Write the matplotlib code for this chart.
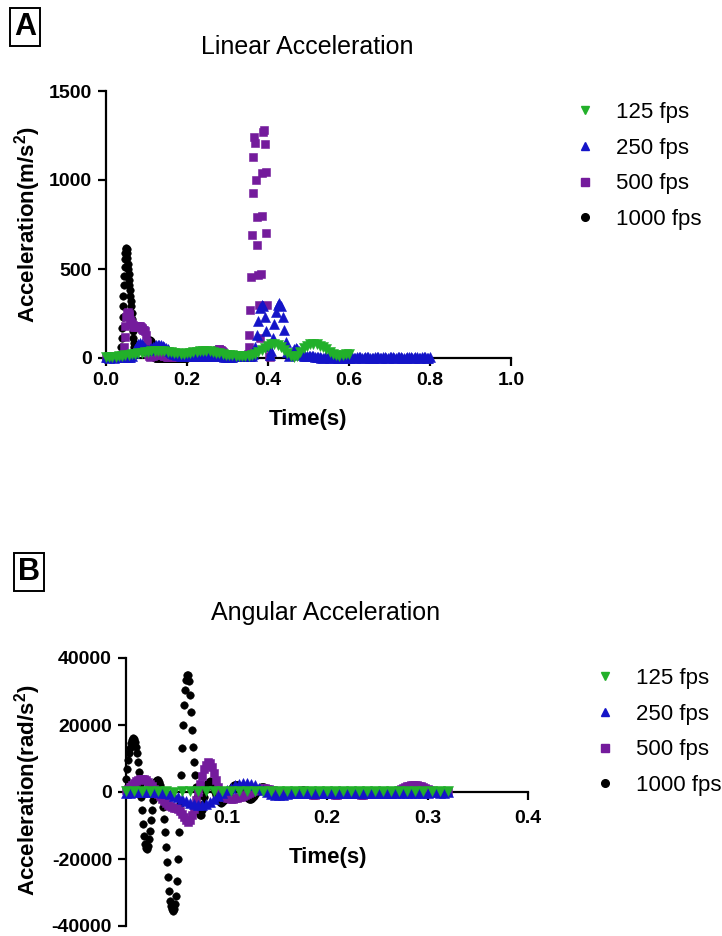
import numpy as np
import matplotlib
matplotlib.use("Agg")
import matplotlib.pyplot as plt
from matplotlib.lines import Line2D

plt.rcParams['font.family'] = ['Liberation Sans', 'DejaVu Sans']
plt.rcParams['axes.unicode_minus'] = False
plt.rcParams['mathtext.fontset'] = 'custom'
plt.rcParams['mathtext.rm'] = 'Liberation Sans'
plt.rcParams['mathtext.bf'] = 'Liberation Sans:bold'

labels = ['125 fps', '250 fps', '500 fps', '1000 fps']
fps = [125, 250, 500, 1000]

# ---- A: linear acceleration (m/s^2), one value per frame from t = 0 ----
green_A = [5, 6, 7, 8, 10, 12, 15, 18, 21, 24, 27, 30, 33, 36, 38, 40, 41, 40, 38, 35,
           32, 29, 26, 25, 25, 27, 30, 33, 36, 38, 39, 39, 37, 34, 30, 26, 22, 19, 17, 15,
           14, 13, 12, 12, 13, 16, 22, 32, 45, 58, 70, 77, 78, 72, 60, 44, 26, 10, 4, 14,
           35, 55, 70, 78, 80, 77, 70, 60, 48, 35, 24, 15, 12, 15, 20, 25]

blue_A = [3, 3, 2, 3, 3, 2, 3, 3, 3, 4, 4, 3, 3, 4, 5, 6,
          12, 28, 50, 68, 80, 85, 80, 68, 55, 47, 45, 48, 55, 62, 68, 72, 75, 74, 71, 67,
          62, 56, 49, 42, 35, 29, 24, 20, 17, 15, 13, 12, 11, 10, 10,
          10, 11, 12, 13, 14, 15, 15, 15, 14, 14, 13, 13, 12, 12, 12, 12, 11, 11, 10, 10,
          9, 9, 8, 8, 8, 8, 8, 8, 9, 9, 9, 10, 10, 10, 10, 10, 10, 11, 12, 14,
          20, 60, 130, 210, 280, 300, 290, 230, 150, 70, 15, 40, 110, 190, 260, 300, 310, 290, 230, 160,
          90, 35, 10, 15, 35, 50, 55, 50, 40, 25, 15, 10, 10, 12, 14, 14, 12, 9, 6, 4,
          3, 3, 2, 2, 3, 3, 3, 2, 2, 3, 3, 3, 2, 2, 2, 3, 3, 3, 2, 2,
          3, 3, 2, 2, 3, 3, 3, 2, 2, 3, 3, 3, 2, 2, 2, 3, 3, 3, 2, 2,
          3, 3, 2, 2, 3, 3, 3, 2, 2, 3, 3, 3, 2, 2, 2, 3, 3, 3, 2, 2,
          3, 3, 2, 2, 3, 3, 3, 2, 2, 3]

purple_A = [2, 2, 2, 2, 2, 2, 2, 2, 2, 2, 2, 2, 2, 2, 2, 2, 3, 3, 4, 6, 10,
            20, 60, 120, 180, 230, 255, 260, 250, 235, 215, 200, 190, 185, 180, 175, 175, 180, 180, 175, 175,
            180, 180, 175, 170, 165, 160, 155, 150, 130, 90, 50, 20, 10,
            8, 9, 10, 12, 14, 16, 18, 20, 22, 24, 25, 25, 24, 22, 20, 18, 16, 14, 12, 10,
            9, 8, 7, 6, 6, 5, 5,
            5, 5, 4, 4, 5, 5, 6, 6, 5, 5, 5, 4, 4, 5, 5, 6, 5, 5, 4, 4,
            5, 5, 6, 6, 5, 5, 4, 4, 5, 5, 6, 5, 5, 4, 4, 5, 5, 6, 6, 5,
            5, 4, 4, 5, 5, 6, 5, 5, 4, 4,
            8, 12, 18, 25, 32, 38, 43, 46, 48, 48, 46, 43, 38, 32, 25, 18, 12, 8, 6, 5,
            5, 5, 5, 4, 4, 5, 5, 5, 6, 6, 5, 5, 5, 4, 4, 5, 5, 6, 6, 7, 8, 9, 10, 12,
            20, 60, 130, 270, 455, 690, 925, 1130, 1240, 1210, 1000, 790, 635, 465, 300, 110,
            470, 800, 1040, 1270, 1280, 1200, 1045, 700, 300, 60, 10, 5]

black_A = [2, 2, 2, 2, 2, 2, 2, 2, 2, 2, 2, 2, 2, 2, 2, 2, 2, 2, 2, 2,
           2, 2, 2, 2, 2, 2, 2, 2, 2, 2, 2, 2, 2, 3, 4, 6,
           10, 20, 60, 110, 170, 230, 290, 350, 410, 460, 510, 555, 590, 612, 620, 610, 590, 560, 530, 500,
           470, 440, 410, 380, 350, 320, 290, 255, 220, 185, 150, 115, 85, 60,
           45, 40, 40, 40, 42, 45, 48, 50, 50, 48, 45, 45, 48, 50, 52, 55, 55, 52, 50, 48,
           46, 45, 45, 46, 48, 50, 52, 53, 54, 55,
           55, 60, 65, 72, 80, 88, 95, 100, 100, 98, 94, 88, 80, 70, 58, 45, 32, 20, 10, 5, 3,
           2, 2, 3, 2, 2, 2, 3, 2, 2, 2, 2, 2, 3, 2, 2, 2, 3, 2, 2, 2,
           2, 2, 3, 2, 2, 2, 3, 2, 2, 2, 2, 2, 3, 2, 2, 2, 3, 2, 2, 2,
           2, 2, 3, 2, 2, 2, 3, 2, 2, 2, 2, 2, 3, 2, 2, 2, 3, 2, 2, 2,
           2, 2, 3, 2, 2, 2, 3, 2, 2, 2, 2, 2, 3, 2, 2, 2, 3, 2, 2, 2]

# ---- B: angular acceleration (rad/s^2) ----
green_B = [300, 300, 200, 200, 300, 200, 100, 200, 300, 300, 200, 200, 300, 200, 200, 300,
           300, 200, 200, 200, 300, 200, 200, 300, 200, 200, 200, 300, 200, 200, 300, 200,
           200, 200, 300, 200, 200, 200, 300, 200, 200]

blue_B = [-200, -200, -100, -100, -100, 0, 0, 0, -100, -200, -400,
          -700, -1100, -1600, -2100, -2700, -3200, -3600, -3900, -3900, -3600,
          -3000, -2200, -1300, -400, 500, 1300, 2000, 2500, 2800, 2800,
          2500, 2000, 1300, 600, 0, -500, -800, -900, -800, -600,
          -400, -300, -300, -200, -200, -300, -300, -400, -400, -300,
          -300, -200, -200, -300, -300, -300, -200, -200, -300, -300,
          -300, -300, -200, -200, -200, -300, -300, -300, -200, -200,
          -200, -300, -300, -200, -200, -100, -100, -200, -200, -100]

purple_B = [500, 1000, 1500, 2100, 2700, 3200, 3600, 3900, 4000, 3900,
            3600, 3100, 2500, 1800, 1000, 200, -500, -1300, -2000, -2700,
            -3300, -3800, -4200, -4500, -4700, -4900, -5200, -5800, -6500, -7500,
            -8500, -9000, -8500, -7000, -5000, -2500, 0, 2500, 4800, 6800,
            8200, 9000, 8700, 7500, 5600, 3500, 1500, 0, -1000, -1500, -1800,
            -1900, -2000, -2000, -1900, -1800, -1600, -1400, -1200, -1000, -700,
            -400, -100, 200, 500, 700, 900, 1000, 1100, 1100, 1000,
            900, 700, 500, 300, 100, -100, -300, -400, -500, -500,
            -600, -600, -700, -700, -700, -700, -700, -700, -700, -700,
            -700, -700, -800, -800, -700, -700, -700, -600, -600, -700,
            -700, -700, -700, -800, -800, -700, -700, -700, -700, -700,
            -700, -600, -600, -700, -700, -700, -800, -800, -700, -700,
            -700, -700, -700, -700, -600, -600, -700, -700, -700, -700,
            -600, -500, -300, 0, 300, 600, 900, 1200, 1500, 1700,
            1900, 2000, 2100, 2100, 2000, 1900, 1700, 1500, 1200, 900,
            600, 300, 100, 0, -100, -100, -100, 0, 0, 0]

black_B = [4000, 7000, 9500, 11500, 13000, 14500, 15500, 16000, 15800, 15000,
           13500, 11500, 9000, 6000, 2500, -1500, -5500, -9500, -13000, -15500,
           -16800, -17000, -16000, -14000, -11500, -8500, -5500, -2500, 0, 2000,
           3200, 3700, 3600, 3000, 2000, 800, -1500, -4500, -8000, -12000,
           -16500, -21000, -25500, -29500, -32500, -34000, -35000, -35500, -35000, -33500,
           -31000, -26500, -20000, -12000, -3500, 5000, 13000, 20000, 26000, 30500,
           33500, 35000, 35000, 33000, 29000, 24000, 18500, 13500, 9000, 5000,
           1500, -1500, -4000, -6000, -7000, -6800, -5500, -3500, -1500,
           500, 1500, 2300, 2800, 3100, 3200, 3000, 2500, 1800, 900,
           0, -900, -1700, -2300, -2800, -3100, -3200, -3100, -2800, -2500,
           -2000, -1400, -800, -200, 400, 900, 1300, 1700, 2000, 2100,
           2200, 2100, 2000, 1700, 1300, 900, 500, 0, -500, -900,
           -1300, -1600, -1900, -2000, -2100, -2000, -1800, -1500, -1100, -700,
           -300, 100, 500, 900, 1200, 1400, 1500, 1500, 1400, 1200,
           900, 600, 300, 0, -200, -400, -500, -500, -400, -300,
           -200, -100, 0,
           0, 0, 100, 100, 200, 200, 200, 200, 100, 100,
           0, 0, 0, -100, -100, -100, -100, 0, 0, 100,
           200, 300, 400, 500, 500, 500, 400, 300, 200, 100,
           0, 0, 0, 0, -100, -100, -100, 0, 0, 0]

GREEN = '#22b02a'
BLUE = '#1414c8'
PURPLE = '#741b9c'
BLACK = '#000000'
colors = [GREEN, BLUE, PURPLE, BLACK]
markers = ['v', '^', 's', 'o']
msizes = [6.6, 6.6, 5.8, 5.4]

W, H = 722, 936


def fx(x):
    return x / W


def fy(y):
    return 1 - y / H


def draw(ax, series):
    # black first, green on top
    for i in [3, 2, 1, 0]:
        vals = np.array(series[i], dtype=float)
        t = np.arange(len(vals)) / fps[i]
        ax.plot(t, vals, ls='none', marker=markers[i], ms=msizes[i],
                color=colors[i], mec=colors[i], mew=0.4, clip_on=False, zorder=3 + (3 - i))


def style(ax):
    for s in ['top', 'right']:
        ax.spines[s].set_visible(False)
    for s in ['left', 'bottom']:
        ax.spines[s].set_linewidth(1.6)
    ax.tick_params(direction='out', length=6, width=1.6, labelsize=14, pad=4)
    for lab in ax.get_xticklabels() + ax.get_yticklabels():
        lab.set_fontweight('bold')


def legend(ax, x, y):
    handles = [Line2D([], [], ls='none', marker=markers[i], ms=5.5, color=colors[i])
               for i in range(4)]
    ax.legend(handles, labels, loc='upper left', bbox_to_anchor=(fx(x), fy(y)),
              bbox_transform=ax.figure.transFigure, frameon=False, fontsize=16,
              handlelength=0.8, handletextpad=1.0, labelspacing=0.66,
              borderpad=0, borderaxespad=0)


fig = plt.figure(figsize=(W / 100, H / 100), dpi=100)

# panel A
axA = fig.add_axes([fx(106), fy(358), fx(511) - fx(106), fy(91) - fy(358)])
draw(axA, [green_A, blue_A, purple_A, black_A])
axA.set_xlim(0, 1.0)
axA.set_ylim(0, 1500)
axA.set_xticks([0.0, 0.2, 0.4, 0.6, 0.8, 1.0])
axA.set_xticklabels(['0.0', '0.2', '0.4', '0.6', '0.8', '1.0'])
axA.set_yticks([0, 500, 1000, 1500])
axA.set_yticklabels(['0', '500', '1000', '1500'])
style(axA)
legend(axA, 576, 102)

# panel B
axB = fig.add_axes([fx(126), fy(926), fx(528) - fx(126), fy(658) - fy(926)])
draw(axB, [green_B, blue_B, purple_B, black_B])
axB.set_xlim(0, 0.4)
axB.set_ylim(-40000, 40000)
axB.spines['bottom'].set_position(('data', 0))
axB.set_xticks([0.1, 0.2, 0.3, 0.4])
axB.set_xticklabels(['0.1', '0.2', '0.3', '0.4'])
axB.set_yticks([-40000, -20000, 0, 20000, 40000])
axB.set_yticklabels(['-40000', '-20000', '0', '20000', '40000'])
style(axB)
axB.tick_params(axis='x', pad=7)
legend(axB, 596, 668)

# titles, axis labels and panel letters
fig.text(fx(307), fy(47), 'Linear Acceleration', ha='center', va='center', fontsize=18)
fig.text(fx(326), fy(613), 'Angular Acceleration', ha='center', va='center', fontsize=18)
fig.text(fx(308), fy(419), 'Time(s)', ha='center', va='center', fontsize=16, fontweight='bold')
fig.text(fx(328), fy(857), 'Time(s)', ha='center', va='center', fontsize=16, fontweight='bold')
fig.text(fx(28), fy(224), r'Acceleration(m/s$^\mathbf{2}$)', rotation=90, ha='center',
         va='center', fontsize=16, fontweight='bold')
fig.text(fx(28), fy(790), r'Acceleration(rad/s$^\mathbf{2}$)', rotation=90, ha='center',
         va='center', fontsize=16, fontweight='bold')

box = dict(boxstyle='square,pad=0.14', fc='white', ec='black', lw=1.4)
fig.text(fx(25), fy(27), 'A', ha='center', va='center', fontsize=22, fontweight='bold', bbox=box)
fig.text(fx(29), fy(572), 'B', ha='center', va='center', fontsize=22, fontweight='bold', bbox=box)

fig.savefig('out.png', dpi=100)
